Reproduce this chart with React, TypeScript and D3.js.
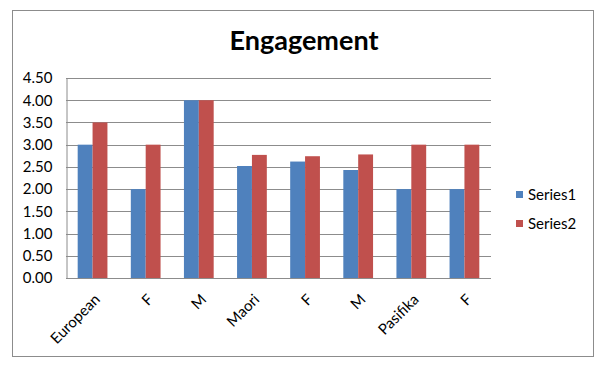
import { useEffect, useRef } from "react";
import * as d3 from "d3";

const categories = ["European", "F", "M", "Maori", "F", "M", "Pasifika", "F"];
const seriesNames = ["Series1", "Series2"];
const series1 = [3.0, 2.0, 4.0, 2.52, 2.62, 2.43, 2.0, 2.0];
const series2 = [3.5, 3.0, 4.0, 2.77, 2.74, 2.78, 3.0, 3.0];
const yTicks = [0, 0.5, 1, 1.5, 2, 2.5, 3, 3.5, 4, 4.5];
const colors = ["#4F81BD", "#C0504D"];

const FONT = "Lato, 'Open Sans', sans-serif";

function App() {
  const ref = useRef<SVGSVGElement>(null);

  useEffect(() => {
    const svg = d3.select(ref.current);
    svg.selectAll("*").remove();

    const margin = { top: 78, left: 66, right: 109, bottom: 92 };
    const width = 600;
    const height = 370;
    const innerWidth = width - margin.left - margin.right;
    const innerHeight = height - margin.top - margin.bottom;

    // outer frame
    svg
      .append("rect")
      .attr("x", 12.5)
      .attr("y", 10.5)
      .attr("width", 581)
      .attr("height", 346)
      .attr("fill", "#fff")
      .attr("stroke", "#8c8c8c")
      .attr("stroke-width", 1);

    svg
      .append("text")
      .attr("x", 304)
      .attr("y", 50)
      .attr("text-anchor", "middle")
      .attr("font-family", FONT)
      .attr("font-weight", "bold")
      .attr("font-size", 27)
      .attr("fill", "#000")
      .text("Engagement");

    const g = svg
      .append("g")
      .attr("transform", `translate(${margin.left},${margin.top})`);

    const x0 = d3
      .scaleBand<number>()
      .domain(categories.map((_, i) => i))
      .range([0, innerWidth]);
    const bw = x0.bandwidth();
    const x1 = d3
      .scaleBand<string>()
      .domain(seriesNames)
      .range([bw * 0.22, bw * 0.78]);

    const y = d3.scaleLinear().domain([0, 4.5]).range([innerHeight, 0]);

    // gridlines
    g.append("g")
      .selectAll("line")
      .data(yTicks.filter((t) => t > 0))
      .enter()
      .append("line")
      .attr("x1", 0)
      .attr("x2", innerWidth)
      .attr("y1", (d) => Math.round(y(d)) + 0.5)
      .attr("y2", (d) => Math.round(y(d)) + 0.5)
      .attr("stroke", "#8c8c8c");

    // y axis
    const yAxis = g
      .append("g")
      .attr("transform", "translate(0.5,0)")
      .call(
        d3
          .axisLeft(y)
          .tickValues(yTicks)
          .tickFormat(d3.format(".2f"))
          .tickSize(0)
          .tickPadding(14)
      );
    yAxis.select(".domain").attr("stroke", "#8c8c8c");
    yAxis
      .selectAll("text")
      .attr("font-family", FONT)
      .attr("font-size", 15)
      .attr("fill", "#000");

    // bars
    const data = categories.map((c, i) => ({ i, vals: [series1[i], series2[i]] }));
    const groups = g
      .selectAll(".cat")
      .data(data)
      .enter()
      .append("g")
      .attr("transform", (d) => `translate(${x0(d.i)},0)`);
    groups
      .selectAll("rect")
      .data((d) => d.vals.map((v, k) => ({ v, k })))
      .enter()
      .append("rect")
      .attr("x", (d) => x1(seriesNames[d.k])!)
      .attr("width", x1.bandwidth())
      .attr("y", (d) => y(d.v))
      .attr("height", (d) => innerHeight - y(d.v))
      .attr("fill", (d) => colors[d.k]);

    // x axis line
    g.append("line")
      .attr("x1", 0)
      .attr("x2", innerWidth)
      .attr("y1", Math.round(innerHeight) + 0.5)
      .attr("y2", Math.round(innerHeight) + 0.5)
      .attr("stroke", "#8c8c8c");

    // x labels
    g.append("g")
      .selectAll("text")
      .data(categories)
      .enter()
      .append("text")
      .attr("transform", (_, i) => {
        const cx = x0(i)! + bw / 2 + 1;
        return `translate(${cx},${innerHeight + 15}) rotate(-45)`;
      })
      .attr("text-anchor", "end")
      .attr("dy", "0.7em")
      .attr("font-family", FONT)
      .attr("font-size", 15)
      .attr("fill", "#000")
      .text((d) => d);

    // legend
    const legend = svg
      .append("g")
      .selectAll("g")
      .data(seriesNames)
      .enter()
      .append("g")
      .attr("transform", (_, i) => `translate(516,${191 + i * 29})`);
    legend
      .append("rect")
      .attr("width", 7)
      .attr("height", 7)
      .attr("fill", (_, i) => colors[i]);
    legend
      .append("text")
      .attr("x", 12)
      .attr("y", 8.5)
      .attr("font-family", FONT)
      .attr("font-size", 15)
      .attr("fill", "#000")
      .text((d) => d);
  }, []);

  return (
    <svg
      ref={ref}
      width={600}
      height={370}
      style={{ position: "absolute", left: 0, top: 0, background: "#fff" }}
    ></svg>
  );
}

export default App;
